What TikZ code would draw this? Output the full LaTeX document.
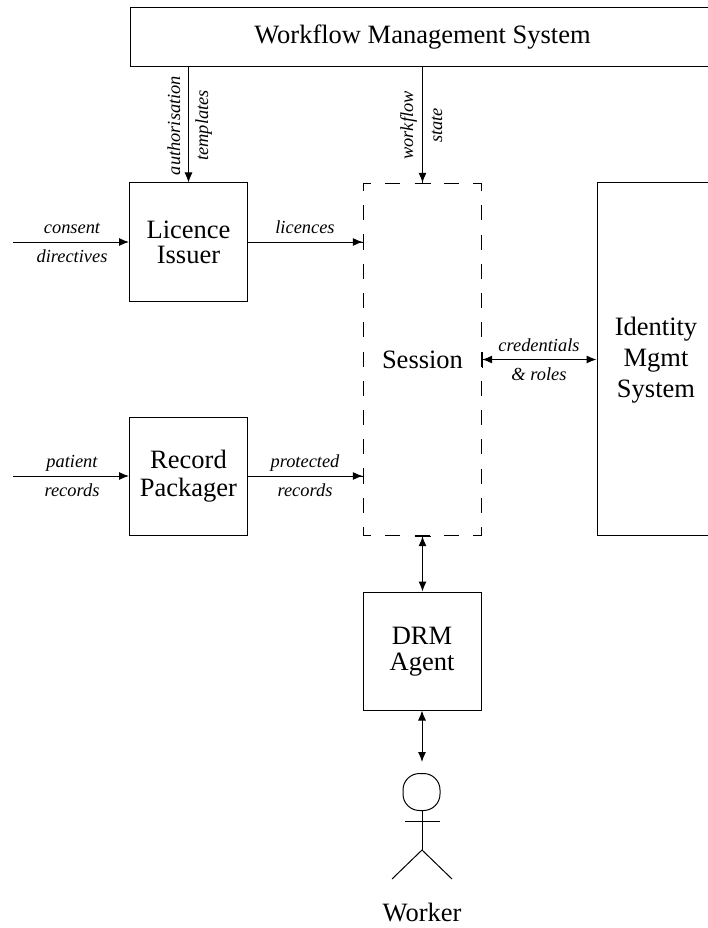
\documentclass[tikz,border=0pt]{standalone}
\usepackage{fontspec}
\setmainfont{Liberation Serif}
\usetikzlibrary{arrows.meta}
\tikzset{
  ln/.style={line width=1pt,black},
  box/.style={ln,draw,rectangle,inner sep=0pt,align=center,font=\fontsize{26.5}{27}\selectfont},
  sq/.style={box,minimum width=118pt,minimum height=118pt},
  lbl/.style={inner sep=0pt,anchor=base,font=\fontsize{18.4}{20}\selectfont\itshape},
  vlbl/.style={lbl,rotate=90},
  hd/.tip={Latex[length=10pt,width=8pt,sep=0pt]},
  br/.tip={Bar[width=16pt,sep=0pt,line width=0.7pt]},
  arr/.style={ln,-{hd[]}},
  arrbar/.style={ln,-{hd[] br[]}},
  dsh/.style={ln,dash pattern=on 15pt off 14.25pt},
  btx/.style={inner sep=0pt,anchor=base,font=\fontsize{26.5}{27}\selectfont},
}
\begin{document}
\begin{tikzpicture}[x=1pt,y=-1pt]
\useasboundingbox (0,0) rectangle (708,928);
\clip (0,0) rectangle (708,928);
% boxes
\node[box,minimum width=585pt,minimum height=59pt] (wms) at (422.5,37.5) {Workflow Management System};
\node[sq] (lic) at (188.5,242) {};
\node[sq] (rec) at (188.5,476) {};
\node[sq] (drm) at (422,651) {};
\node[box,minimum width=118pt,minimum height=352pt] (idm) at (656,359) {};
\node[box,draw=none,minimum width=117pt,minimum height=351pt] (ses) at (422.5,359.5) {};
% box texts on measured baselines
\node[btx] (t1) at (lic.center |- 0,238) {Licence};
\node[btx] (t2) at (lic.center |- 0,263) {Issuer};
\node[btx] (t3) at (rec.center |- 0,468) {Record};
\node[btx] (t4) at (rec.center |- 0,496) {Packager};
\node[btx] (t5) at (drm.center |- 0,644) {DRM};
\node[btx] (t6) at (drm.center |- 0,670) {Agent};
\node[btx] (t7) at (idm.center |- 0,335) {Identity};
\node[btx] (t8) at (idm.center |- 0,366) {Mgmt};
\node[btx] (t9) at (idm.center |- 0,397) {System};
\node[btx] (t10) at (ses.center |- 0,368) {Session};
% dashed session outline
\draw[dsh,dash phase=7.5pt] (ses.north west) -- (ses.north east);
\draw[dsh,dash phase=7.5pt] (ses.south west) -- (ses.south east);
\draw[dsh,dash phase=7.5pt] (ses.north west) -- (ses.south west);
\draw[dsh,dash phase=7.5pt] (ses.north east) -- (ses.south east);
% free ends
\coordinate (cin) at (13,242);
\coordinate (pin) at (13,476);
% worker
\node[ln,draw,rectangle,rounded corners=16.5pt,inner sep=0pt,minimum size=37pt] (head) at (421.5,792) {};
\coordinate (wtop) at (422,762);
\coordinate (hip) at (422,850);
\coordinate (armL) at (405,821);
\coordinate (armR) at (440,821);
\coordinate (legL) at (392,879);
\coordinate (legR) at (452,879);
\draw[ln] (head.south -| hip) -- (hip);
\draw[ln] (armL) -- (armR);
\draw[ln] (legL) -- (hip) -- (legR);
\node[btx] (wkr) at (422,921) {Worker};
% connectors
\draw[arr] (cin) -- (lic.west);
\draw[arr] (pin) -- (rec.west);
\draw[arr] (wms.south -| lic.north) -- (lic.north);
\draw[arrbar] (wms.south -| ses.north) -- (ses.north);
\draw[arrbar] (lic.east) -- (lic.east -| ses.west);
\draw[arrbar] (rec.east) -- (rec.east -| ses.west);
\draw[ln,{br[] hd[]}-{hd[]}] (ses.east) -- (idm.west |- ses.east);
\draw[ln,{br[] hd[]}-{hd[]}] (ses.south) -- (drm.north -| ses.south);
\draw[ln,{hd[]}-{hd[]}] (drm.south) -- (wtop);
% labels
\node[lbl] (l1) at (72,233) {consent};
\node[lbl] (l2) at (72,262) {directives};
\node[lbl] (l3) at (72,467) {patient};
\node[lbl] (l4) at (72,496) {records};
\node[lbl] (l5) at (305,233) {licences};
\node[lbl] (l6) at (305,467) {protected};
\node[lbl] (l7) at (305,496) {records};
\node[lbl] (l8) at (539,351) {credentials};
\node[lbl] (l9) at (539,380) {\& roles};
\node[vlbl] (l10) at (180,125.5) {authorisation};
\node[vlbl] (l11) at (208,125.5) {templates};
\node[vlbl] (l12) at (413,125.5) {workflow};
\node[vlbl] (l13) at (442,125.5) {state};
\end{tikzpicture}
\end{document}
